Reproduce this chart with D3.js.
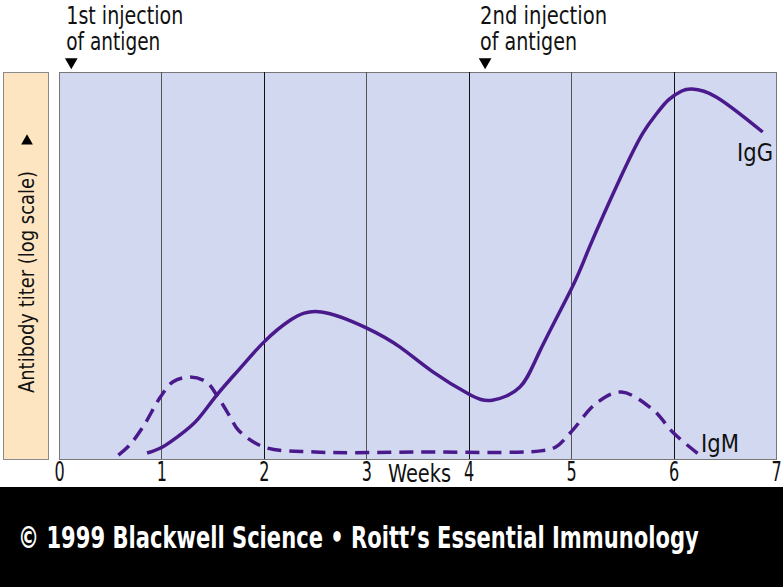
<!DOCTYPE html>
<html>
<head>
<meta charset="utf-8">
<script src="https://cdn.jsdelivr.net/npm/d3@7"></script>
<style>
  body { margin: 0; background: #fff; }
  text { font-family: "DejaVu Sans", sans-serif; font-stretch: condensed; }
</style>
</head>
<body>
<div id="container"></div>
<script>
// weeks after first injection, titer in arbitrary units (0-100, log scale axis)
var igGWeeks = [0.86, 1.01, 1.18, 1.35, 1.54, 1.77, 2.0, 2.26, 2.56, 3.0, 3.33, 3.65, 4.0, 4.23, 4.5, 4.7, 5.01, 5.18, 5.48, 5.7, 5.84, 5.95, 6.08, 6.18, 6.42, 6.87];
var igGValues = [1.55, 3.1, 6.2, 10.1, 16.5, 23.5, 30.2, 35.9, 38, 33.9, 28.9, 22.5, 16.8, 15.2, 18.6, 28.2, 44.4, 54.8, 72.6, 84.2, 89.4, 92.8, 95.1, 95.6, 93.5, 84.5];
var igMWeeks = [0.58, 0.69, 0.82, 0.99, 1.11, 1.28, 1.44, 1.54, 1.67, 1.75, 2.0, 2.5, 3.5, 4.7, 4.85, 5.0, 5.25, 5.49, 5.8, 6.0, 6.28];
var igMValues = [1.0, 3.6, 8.3, 16, 19.9, 21.2, 19.9, 16.5, 10.9, 7.5, 3.1, 1.8, 1.8, 2.1, 3.1, 7.0, 14.5, 17.3, 12.7, 6.7, 0.5];
var weekTicks = [0, 1, 2, 3, 4, 5, 6, 7];
var injectionWeeks = [0.12, 4.16];
var injectionLabels = [["1st injection", "of antigen"], ["2nd injection", "of antigen"]];

var width = 783;
var height = 587;
var plotLeft = 59, plotRight = 776, plotTop = 72, plotBottom = 459;
var lineColor = '#4a1a8c';

var svg = d3.select('#container').append('svg')
    .attr('width', width).attr('height', height);

var x = d3.scaleLinear().domain([0, 7]).range([plotLeft, plotRight]);
var y = d3.scaleLinear().domain([0, 100]).range([plotBottom, plotTop]);

// squeeze a text to a given width (the reference uses a condensed face)
function narrow(sel, w) {
    sel.attr('textLength', w).attr('lengthAdjust', 'spacingAndGlyphs');
}

// y axis label box
svg.append('rect')
    .attr('x', 3.5).attr('y', plotTop + 0.5)
    .attr('width', 45).attr('height', plotBottom - plotTop)
    .attr('fill', '#fde5c1').attr('stroke', '#8a8a8a');

svg.append('text')
    .attr('transform', 'translate(34,282) rotate(-90)')
    .attr('text-anchor', 'middle')
    .style('font-size', '22px')
    .attr('fill', '#111')
    .text('Antibody titer (log scale)')
    .call(narrow, 222);

svg.append('path')
    .attr('d', d3.symbol().type(d3.symbolTriangle).size(60))
    .attr('transform', 'translate(27,141)')
    .attr('fill', '#000');

// plot area
svg.append('rect')
    .attr('x', plotLeft + 0.5).attr('y', plotTop + 0.5)
    .attr('width', plotRight - plotLeft).attr('height', plotBottom - plotTop)
    .attr('fill', '#d1d8ef').attr('stroke', '#777');

svg.append('g').selectAll('line')
    .data(weekTicks.slice(1, -1))
    .join('line')
    .attr('x1', d => Math.round(x(d)) + 0.5).attr('x2', d => Math.round(x(d)) + 0.5)
    .attr('y1', plotTop).attr('y2', plotBottom)
    .attr('stroke', d => d % 2 == 0 ? '#111' : '#555')
    .attr('stroke-width', 1);

// x axis labels
var xAxis = d3.axisBottom(x).tickValues(weekTicks).tickSize(0).tickPadding(2).tickFormat(d3.format('d'));
var axisG = svg.append('g')
    .attr('transform', 'translate(0,' + (plotBottom + 1) + ')')
    .call(xAxis);
axisG.select('.domain').remove();
axisG.selectAll('text')
    .style('font-family', '"DejaVu Sans", sans-serif')
    .style('font-size', '27px')
    .attr('transform', 'scale(0.66,1)')
    .attr('fill', '#111');

svg.append('text')
    .attr('x', 388).attr('y', 482)
    .style('font-size', '24px')
    .attr('fill', '#111')
    .text('Weeks')
    .call(narrow, 63);

// curves
var igG = igGWeeks.map((w, i) => [w, igGValues[i]]);
var igM = igMWeeks.map((w, i) => [w, igMValues[i]]);
var line = d3.line()
    .x(d => x(d[0])).y(d => y(d[1]));

svg.append('path')
    .datum(igG)
    .attr('d', line.curve(d3.curveNatural))
    .attr('fill', 'none')
    .attr('stroke', lineColor)
    .attr('stroke-width', 3.5);

svg.append('path')
    .datum(igM)
    .attr('d', line.curve(d3.curveCatmullRom.alpha(0.5)))
    .attr('fill', 'none')
    .attr('stroke', lineColor)
    .attr('stroke-width', 3.5)
    .attr('stroke-dasharray', '14,8');

svg.append('text')
    .attr('x', 737).attr('y', 161)
    .style('font-size', '24px').attr('fill', '#111')
    .text('IgG')
    .call(narrow, 36);
svg.append('text')
    .attr('x', 701).attr('y', 452)
    .style('font-size', '24px').attr('fill', '#111')
    .text('IgM')
    .call(narrow, 38);

// injection markers
var annWidths = [[117, 94], [127, 97]];
injectionWeeks.forEach(function(w, i) {
    svg.append('path')
        .attr('d', d3.symbol().type(d3.symbolTriangle).size(70))
        .attr('transform', 'translate(' + x(w) + ',62) rotate(180)')
        .attr('fill', '#000');
    svg.append('text')
        .attr('x', x(w) - 5).attr('y', 24)
        .style('font-size', '24px').attr('fill', '#111')
        .text(injectionLabels[i][0])
        .call(narrow, annWidths[i][0]);
    svg.append('text')
        .attr('x', x(w) - 5).attr('y', 50)
        .style('font-size', '24px').attr('fill', '#111')
        .text(injectionLabels[i][1])
        .call(narrow, annWidths[i][1]);
});

// footer
svg.append('rect')
    .attr('x', 0).attr('y', 487)
    .attr('width', width).attr('height', height - 487)
    .attr('fill', '#000');
var footer = svg.append('text')
    .attr('x', 0).attr('y', 0)
    .style('font-size', '31px').style('font-weight', 'bold')
    .attr('fill', '#fff')
    .text('\u00a9 1999 Blackwell Science \u2022 Roitt\u2019s Essential Immunology');
var footerLen = footer.node().getComputedTextLength();
footer.attr('transform', 'translate(18,548) scale(' + (681 / footerLen) + ',1)');
</script>
</body>
</html>
